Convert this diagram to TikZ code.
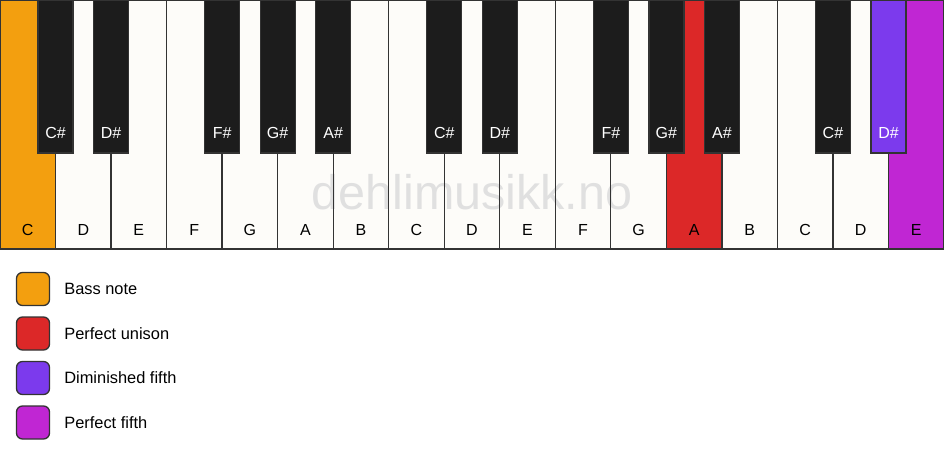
\documentclass[tikz,border=0pt]{standalone}
\usepackage{fontspec}
\setmainfont{Liberation Sans}
\usetikzlibrary{positioning}

\definecolor{keywhite}{HTML}{FDFCF9}
\definecolor{keyblack}{HTML}{1C1C1C}
\definecolor{keyedge}{HTML}{333333}
\definecolor{bassnote}{HTML}{F39F0F}
\definecolor{unison}{HTML}{DC2828}
\definecolor{dimfifth}{HTML}{7C3AED}
\definecolor{perffifth}{HTML}{C026D3}
\definecolor{watermark}{HTML}{E0E0E0}

\tikzset{
  keytext/.style={font=\fontsize{16}{19}\selectfont, inner sep=0pt},
  legendbox/.style={draw=keyedge, line width=1.3pt, rounded corners=6pt, minimum size=33pt, inner sep=0pt},
  legendtext/.style={font=\fontsize{16.4}{19}\selectfont, anchor=west, inner sep=3pt}
}

\begin{document}
\begin{tikzpicture}[x=1pt, y=-1pt]
   \useasboundingbox (0,0) rectangle (944,461);

   % white keys
   \foreach \n/\col in {0/bassnote,1/keywhite,2/keywhite,3/keywhite,4/keywhite,5/keywhite,6/keywhite,7/keywhite,8/keywhite,9/keywhite,10/keywhite,11/keywhite,12/unison,13/keywhite,14/keywhite,15/keywhite,16/perffifth}
      \fill[\col] ({\n*55.53},0) rectangle ({(\n+1)*55.53},249);

   \node[font=\fontsize{48.5}{52}\selectfont, text=watermark, inner sep=0pt] (mark) at (472,192) {dehlimusikk.no};

   \foreach \n/\name in {0/C,1/D,2/E,3/F,4/G,5/A,6/B,7/C,8/D,9/E,10/F,11/G,12/A,13/B,14/C,15/D,16/E} {
      \draw[keyedge, line width=1.3pt] ({\n*55.53},0) rectangle ({(\n+1)*55.53},249);
      \node[keytext] (w\n) at ({\n*55.53+27.76},230) {\name};
   }

   % black keys
   \foreach \n/\name/\col in {1/C\#/keyblack,2/D\#/keyblack,4/F\#/keyblack,5/G\#/keyblack,6/A\#/keyblack,8/C\#/keyblack,9/D\#/keyblack,11/F\#/keyblack,12/G\#/keyblack,13/A\#/keyblack,15/C\#/keyblack,16/D\#/dimfifth} {
      \filldraw[fill=\col, draw=keyedge, line width=1.3pt] ({\n*55.53-17.5},0) rectangle ({\n*55.53+17.5},153);
      \node[keytext, text=white] (b\n) at ({\n*55.53},133) {\name};
   }

   % legend
   \node[legendbox, fill=bassnote] (bass) at (33,289) {};
   \node[legendtext, right=11pt of bass.east, anchor=west] (basstext) {Bass note};
   \node[legendbox, fill=unison] (unis) at (33,333.5) {};
   \node[legendtext, right=11pt of unis.east, anchor=west] (unistext) {Perfect unison};
   \node[legendbox, fill=dimfifth] (dim) at (33,378) {};
   \node[legendtext, right=11pt of dim.east, anchor=west] (dimtext) {Diminished fifth};
   \node[legendbox, fill=perffifth] (perf) at (33,422.5) {};
   \node[legendtext, right=11pt of perf.east, anchor=west] (perftext) {Perfect fifth};
\end{tikzpicture}
\end{document}
